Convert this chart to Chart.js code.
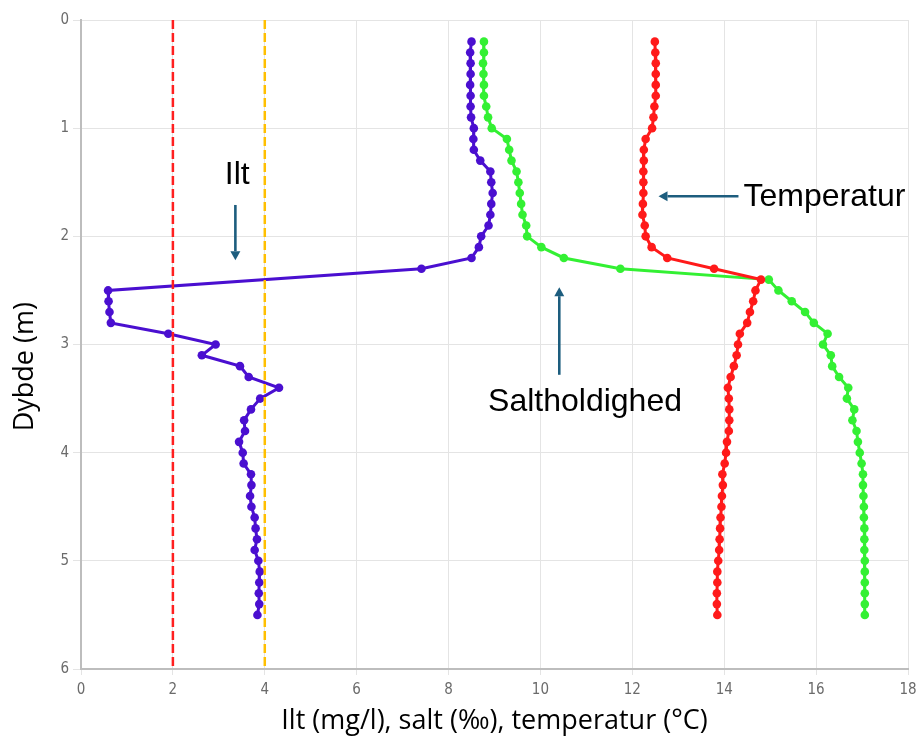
<!DOCTYPE html>
<html>
<head>
<meta charset="utf-8">
<script src="https://cdn.jsdelivr.net/npm/chart.js@4/dist/chart.umd.min.js"></script>
<style>
  html, body { margin: 0; padding: 0; background: #ffffff; }
  #wrap { width: 920px; height: 738px; position: relative; }
</style>
</head>
<body>
<div id="wrap"><canvas id="c"></canvas></div>
<script>
// Depth (m) of each measurement
const depths = [0.2,0.3,0.4,0.5,0.6,0.7,0.8,0.9,1.0,1.1,1.2,1.3,1.4,1.5,1.6,1.7,1.8,1.9,2.0,2.1,2.2,2.3,2.4,2.5,2.6,2.7,2.8,2.9,3.0,3.1,3.2,3.3,3.4,3.5,3.6,3.7,3.8,3.9,4.0,4.1,4.2,4.3,4.4,4.5,4.6,4.7,4.8,4.9,5.0,5.1,5.2,5.3,5.4,5.5];

// Oxygen (mg/l) - no reading at 2.4 m
const oxygen = [8.50,8.47,8.48,8.48,8.47,8.48,8.48,8.49,8.55,8.54,8.55,8.69,8.91,8.93,8.96,8.93,8.91,8.87,8.71,8.66,8.50,7.41,null,0.59,0.60,0.62,0.65,1.90,2.93,2.63,3.46,3.65,4.31,3.90,3.70,3.55,3.57,3.44,3.52,3.54,3.70,3.71,3.68,3.71,3.78,3.80,3.83,3.78,3.86,3.89,3.88,3.87,3.88,3.84];

// Salinity (permille)
const salinity = [8.77,8.77,8.75,8.76,8.77,8.77,8.82,8.86,8.94,9.27,9.32,9.37,9.48,9.52,9.55,9.58,9.61,9.69,9.71,10.02,10.51,11.74,14.97,15.18,15.47,15.76,15.95,16.25,16.15,16.32,16.35,16.50,16.70,16.67,16.83,16.79,16.88,16.91,16.95,16.99,17.02,17.02,17.03,17.04,17.04,17.05,17.05,17.05,17.06,17.06,17.06,17.06,17.06,17.06];

// Temperature (deg C)
const temperature = [12.49,12.50,12.51,12.51,12.51,12.51,12.48,12.46,12.43,12.29,12.25,12.25,12.24,12.24,12.24,12.23,12.22,12.27,12.29,12.42,12.76,13.78,14.80,14.68,14.63,14.56,14.50,14.34,14.30,14.27,14.21,14.14,14.08,14.10,14.11,14.11,14.10,14.06,14.04,14.01,13.96,13.97,13.95,13.94,13.92,13.91,13.90,13.89,13.87,13.85,13.85,13.84,13.84,13.85];

// Oxygen threshold lines (mg/l)
const thresholdLow = 2;
const thresholdHigh = 4;
const depthRange = [0, 6];

// Tick settings
const xTicks = [0, 2, 4, 6, 8, 10, 12, 14, 16, 18];
const yTicks = [0, 1, 2, 3, 4, 5, 6];

// Axis titles
const xTitle = 'Ilt (mg/l), salt (‰), temperatur (°C)';
const yTitle = 'Dybde (m)';

// Callout labels (anchored in data coordinates)
const callouts = [
  { text: 'Ilt', tx: 3.40, ty: 1.43, align: 'center', ax1: 3.36, ay1: 1.71, ax2: 3.36, ay2: 2.22 },
  { text: 'Temperatur', tx: 14.42, ty: 1.64, align: 'left', ax1: 14.31, ay1: 1.63, ax2: 12.57, ay2: 1.63 },
  { text: 'Saltholdighed', tx: 10.97, ty: 3.53, align: 'center', ax1: 10.41, ay1: 3.28, ax2: 10.41, ay2: 2.47 }
];

const toPts = (vals) => depths.map((d, i) => ({ x: vals[i], y: d }));

const calloutPlugin = {
  id: 'callouts',
  afterDatasetsDraw(chart) {
    const ctx = chart.ctx;
    const xs = chart.scales.x, ys = chart.scales.y;
    ctx.save();
    const arrowColor = '#1d5d7e';
    callouts.forEach(c => {
      const x1 = xs.getPixelForValue(c.ax1), y1 = ys.getPixelForValue(c.ay1);
      const x2 = xs.getPixelForValue(c.ax2), y2 = ys.getPixelForValue(c.ay2);
      const ang = Math.atan2(y2 - y1, x2 - x1);
      const headLen = 9, headW = 5;
      const bx = x2 - headLen * Math.cos(ang), by = y2 - headLen * Math.sin(ang);
      ctx.strokeStyle = arrowColor;
      ctx.lineWidth = 2.6;
      ctx.beginPath();
      ctx.moveTo(x1, y1);
      ctx.lineTo(bx, by);
      ctx.stroke();
      ctx.fillStyle = arrowColor;
      ctx.beginPath();
      ctx.moveTo(x2, y2);
      ctx.lineTo(bx + headW * Math.sin(ang), by - headW * Math.cos(ang));
      ctx.lineTo(bx - headW * Math.sin(ang), by + headW * Math.cos(ang));
      ctx.closePath();
      ctx.fill();
      ctx.fillStyle = '#000000';
      ctx.font = '32px "Liberation Sans", Arial, sans-serif';
      ctx.textAlign = c.align;
      ctx.textBaseline = 'middle';
      ctx.fillText(c.text, xs.getPixelForValue(c.tx), ys.getPixelForValue(c.ty));
    });
    ctx.restore();
  }
};

// Draws the y-axis title slightly below the axis centre, as in the reference
const yTitlePlugin = {
  id: 'yTitle',
  afterDraw(chart) {
    const ctx = chart.ctx;
    const ys = chart.scales.y;
    ctx.save();
    ctx.translate(25, ys.getPixelForValue(3.205));
    ctx.rotate(-Math.PI / 2);
    ctx.fillStyle = '#000000';
    ctx.font = '27px "Open Sans", "Noto Sans", sans-serif';
    ctx.textAlign = 'center';
    ctx.textBaseline = 'middle';
    ctx.fillText(yTitle, 0, 0);
    ctx.restore();
  }
};

const tickFont = { family: '"Liberation Sans Narrow", "DejaVu Sans Condensed", sans-serif', size: 15 };
const titleFont = { family: '"Open Sans", "Noto Sans", sans-serif', size: 27 };

new Chart(document.getElementById('c'), {
  type: 'line',
  data: {
    datasets: [
      {
        label: 'Grænse 2 mg/l',
        data: depthRange.map(d => ({ x: thresholdLow, y: d })),
        borderColor: '#ff1f1f',
        borderWidth: 2.5,
        borderDash: [9, 4],
        pointRadius: 0,
        order: 0
      },
      {
        label: 'Grænse 4 mg/l',
        data: depthRange.map(d => ({ x: thresholdHigh, y: d })),
        borderColor: '#ffbf00',
        borderWidth: 2.5,
        borderDash: [9, 4],
        pointRadius: 0,
        order: 0
      },
      {
        label: 'Ilt',
        data: toPts(oxygen),
        borderColor: '#4a0fd0',
        backgroundColor: '#4a0fd0',
        borderWidth: 3,
        pointRadius: 4.3,
        pointBorderWidth: 0,
        spanGaps: true,
        order: 1
      },
      {
        label: 'Temperatur',
        data: toPts(temperature),
        borderColor: '#ff1a1a',
        backgroundColor: '#ff1a1a',
        borderWidth: 3,
        pointRadius: 4.3,
        pointBorderWidth: 0,
        order: 2
      },
      {
        label: 'Saltholdighed',
        data: toPts(salinity),
        borderColor: '#33f033',
        backgroundColor: '#33f033',
        borderWidth: 3,
        pointRadius: 4.3,
        pointBorderWidth: 0,
        order: 3
      }
    ]
  },
  options: {
    responsive: true,
    maintainAspectRatio: false,
    animation: false,
    events: [],
    layout: { padding: { top: 20, right: 12, left: 0, bottom: 0 } },
    plugins: { legend: { display: false }, tooltip: { enabled: false } },
    scales: {
      x: {
        type: 'linear',
        min: 0, max: 18,
        afterBuildTicks: s => { s.ticks = xTicks.map(v => ({ value: v })); },
        afterFit: s => { s.height = 69; s.paddingRight = 0; s.paddingLeft = 0; },
        grid: { color: '#e4e4e4', tickColor: '#e4e4e4', tickLength: 6, lineWidth: 1 },
        border: { color: '#bdbdbd', width: 2 },
        ticks: { color: '#6b6b6b', font: tickFont, padding: 6 },
        title: { display: true, text: xTitle, color: '#000', font: titleFont, padding: { top: 0, bottom: 0 } }
      },
      y: {
        type: 'linear',
        reverse: true,
        min: 0, max: 6,
        afterBuildTicks: s => { s.ticks = yTicks.map(v => ({ value: v })); },
        afterFit: s => { s.width = 81; },
        grid: { color: '#e4e4e4', tickColor: '#e4e4e4', tickLength: 8, lineWidth: 1 },
        border: { color: '#bdbdbd', width: 2 },
        ticks: { color: '#6b6b6b', font: tickFont, padding: 4 },
        title: { display: false, text: yTitle }
      }
    }
  },
  plugins: [calloutPlugin, yTitlePlugin]
});
</script>
</body>
</html>
